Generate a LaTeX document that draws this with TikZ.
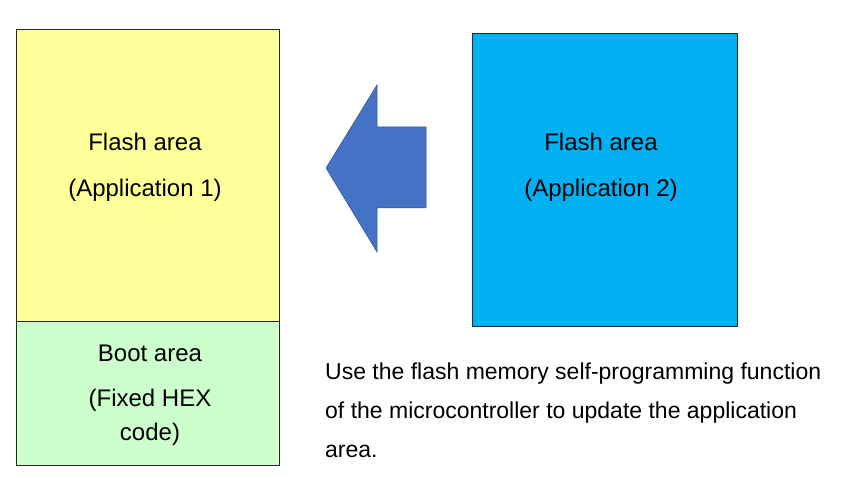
\documentclass[tikz,border=0pt]{standalone}
\usepackage{fontspec}
\setmainfont{Liberation Sans}
\definecolor{flashyellow}{HTML}{FFFF99}
\definecolor{bootgreen}{HTML}{CCFFCC}
\definecolor{flashblue}{HTML}{00B0F0}
\definecolor{arrowfill}{HTML}{4472C4}
\definecolor{arrowline}{HTML}{2F528F}
\definecolor{boxline}{HTML}{262626}
\begin{document}
\begin{tikzpicture}[x=1pt,y=-1pt,
  area/.style={draw=boxline,line width=0.9pt,rectangle,inner sep=0pt,anchor=north west},
  boxtext/.style={inner sep=0pt,anchor=base,font=\fontsize{24}{28}\selectfont,text=black},
  paratext/.style={inner sep=0pt,anchor=base west,font=\fontsize{23}{28}\selectfont,text=black}]
\useasboundingbox (0,0) rectangle (863,478);
\fill[white] (0,0) rectangle (863,478);
% boxes
\node[area,fill=flashyellow,minimum width=263pt,minimum height=292pt] (app1) at (16,29) {};
\node[area,fill=bootgreen,minimum width=263pt,minimum height=144pt] (boot) at (16,321) {};
\node[area,fill=flashblue,minimum width=265pt,minimum height=293pt] (app2) at (472,33) {};
% arrow
\draw[fill=arrowfill,draw=arrowline,line width=0.5pt]
  (326,168) -- (377,85) -- (377,127) -- (426,127) -- (426,208) -- (377,208) -- (377,252) -- cycle;
% texts
\node[boxtext] (t1a) at (145,151) {Flash area};
\node[boxtext] (t1b) at (145,197) {(Application 1)};
\node[boxtext] (t2a) at (601,151) {Flash area};
\node[boxtext] (t2b) at (601,197) {(Application 2)};
\node[boxtext] (t3a) at (150,362) {Boot area};
\node[boxtext] (t3b) at (150,407) {(Fixed HEX};
\node[boxtext] (t3c) at (150,441) {code)};
\node[paratext] (p1) at (325,380) {Use the flash memory self-programming function};
\node[paratext] (p2) at (325,419) {of the microcontroller to update the application};
\node[paratext] (p3) at (325,457) {area.};
\end{tikzpicture}
\end{document}
